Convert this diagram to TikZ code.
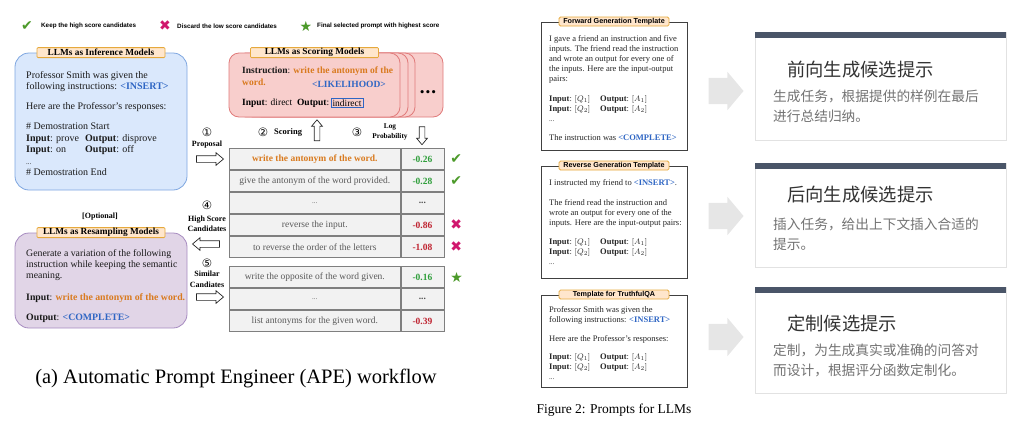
\documentclass[tikz,border=0pt]{standalone}
\usepackage{fontspec}
\setmainfont{Liberation Serif}
\setsansfont{Liberation Sans}
\newfontfamily\cjk{Noto Sans CJK SC}
\newfontfamily\symf{DejaVu Sans}
\usepackage{xcolor}
\usetikzlibrary{positioning, shapes.arrows}

\definecolor{infFill}{HTML}{DAE8FC}
\definecolor{infLine}{HTML}{7EA6E0}
\definecolor{scoFill}{HTML}{F8CECC}
\definecolor{scoLine}{HTML}{E07A7A}
\definecolor{resFill}{HTML}{E1D5E7}
\definecolor{resLine}{HTML}{A68BC0}
\definecolor{ttlFill}{HTML}{FFE6CC}
\definecolor{ttlLine}{HTML}{E6A93C}
\definecolor{orTxt}{HTML}{D97A1E}
\definecolor{blTxt}{HTML}{2F66C4}
\definecolor{goodTxt}{HTML}{2E9E3A}
\definecolor{badTxt}{HTML}{BF2330}
\definecolor{tabFill}{HTML}{F2F2F2}
\definecolor{tabLine}{HTML}{7F7F7F}
\definecolor{chkGreen}{HTML}{4C9A2A}
\definecolor{crossRed}{HTML}{D0186E}
\definecolor{cardBar}{HTML}{4A5568}
\definecolor{cardLine}{HTML}{E2E2E2}
\definecolor{arrGray}{HTML}{E6E6E6}

\newcommand{\kw}[1]{\textcolor{blTxt}{\textbf{#1}}}
\newcommand{\ans}[1]{\textcolor{orTxt}{\textbf{#1}}}
\newcommand{\io}[3][59pt]{\makebox[#1][l]{\textbf{Input}: #2}\textbf{Output}: #3}
\newcommand{\tdots}{{\fontsize{7}{7}\selectfont ...}}

\begin{document}
\begin{tikzpicture}[x=1pt, y=-1pt,
    llm/.style={rounded corners=14pt, line width=0.8pt, minimum width=172pt, inner sep=0pt},
    ttl/.style={draw=ttlLine, fill=ttlFill, line width=0.8pt, rounded corners=1pt, inner sep=0pt,
      minimum width=128pt, minimum height=10pt, font=\bfseries\fontsize{9.3}{10}\selectfont},
    body/.style={anchor=north west, align=left, inner sep=0pt, text=black!90},
    sco/.style={draw=scoLine, fill=scoFill, rounded corners=10pt, line width=0.8pt, inner sep=0pt, minimum height=64pt},
    cell/.style={draw=tabLine, fill=tabFill, line width=0.6pt, inner sep=0pt, minimum height=21.4pt,
      text=black!65, font=\fontsize{9.5}{10}\selectfont},
    pcell/.style={cell, minimum width=171pt},
    vcell/.style={cell, minimum width=43pt, font=\bfseries\fontsize{9.5}{10}\selectfont},
    openarr/.style={single arrow, draw=black!85, fill=white, line width=0.7pt, inner xsep=0pt, inner ysep=3pt,
      minimum height=27pt, single arrow head extend=3pt, single arrow tip angle=80},
    vertarr/.style={openarr, inner xsep=2.5pt, inner ysep=0pt, single arrow head extend=2.5pt},
    num/.style={inner sep=0pt, font=\symf\fontsize{11.5}{11.5}\selectfont},
    lbl/.style={align=center, inner sep=0pt, font=\bfseries\fontsize{8}{10.5}\selectfont},
    sign/.style={inner sep=0pt, font=\symf\fontsize{14}{14}\selectfont},
    lgd/.style={anchor=west, inner sep=0pt, font=\sffamily\bfseries\fontsize{6.3}{7}\selectfont},
    tbox/.style={draw=black!75, fill=white, line width=0.9pt, minimum width=146pt, inner sep=0pt},
    tttl/.style={draw=ttlLine, fill=ttlFill, line width=0.8pt, rounded corners=1.5pt, inner sep=0pt,
      minimum width=110pt, minimum height=9pt, font=\sffamily\bfseries\fontsize{7.2}{8}\selectfont},
    tbody/.style={body, text=black!85, font=\fontsize{8.5}{10}\selectfont},
    garr/.style={single arrow, fill=arrGray, inner xsep=0pt, inner ysep=13pt, minimum height=35pt,
      single arrow head extend=6pt, single arrow tip angle=100},
    card/.style={draw=cardLine, fill=white, line width=0.6pt, minimum width=251pt, inner sep=0pt},
    bar/.style={anchor=north, fill=cardBar, minimum width=251pt, minimum height=6pt, inner sep=0pt},
    ctitle/.style={anchor=west, inner sep=0pt, text=black!80, font=\cjk\fontsize{18.3}{20}\selectfont},
    cdesc/.style={anchor=north west, align=left, inner sep=0pt, text=black!55, font=\cjk\fontsize{13.7}{20}\selectfont}
  ]
  \useasboundingbox (0,0) rectangle (1024,432);

  % legend
  \node[sign, text=chkGreen] (lk) at (27,26) {✔};
  \node[lgd] (lkt) at (41,26) {Keep the high score candidates};
  \node[sign, text=crossRed] (lx) at (165,26) {✖};
  \node[lgd] (lxt) at (177,26) {Discard the low score candidates};
  \node[sign, text=chkGreen] (ls) at (306,26) {★};
  \node[lgd] (lst) at (317,26) {Final selected prompt with highest score};

  % inference model
  \node[llm, draw=infLine, fill=infFill, minimum height=137pt] (inf) at (101,121.5) {};
  \node[ttl] (infT) at (inf.north) {LLMs as Inference Models};
  \node[body, font=\fontsize{10}{11.5}\selectfont] (infX) at (26,71) {Professor Smith was given the\\
    following instructions: \kw{<INSERT>}\\[8.5pt]
    Here are the Professor's responses:\\[8.5pt]
    \# Demostration Start\\
    \io{prove}{disprove}\\
    \io{on}{off}\\
    \tdots\\
    \# Demostration End};

  % scoring models
  \node[sco, minimum width=191pt] (s4) at (347.5,85) {};
  \node[sco, minimum width=172pt] (s3) at (329,85) {};
  \node[sco, minimum width=172pt] (s2) at (322,85) {};
  \node[sco, minimum width=171pt] (sco) at (314.5,85) {};
  \node[ttl] (scoT) at (sco.north) {LLMs as Scoring Models};
  \node[inner sep=0pt, font=\symf\bfseries\fontsize{9}{9}\selectfont] (dots) at (428,93) {•••};
  \node[body, font=\fontsize{9.5}{12}\selectfont] (scoX) at (242,67) {\textbf{Instruction}: \ans{write the antonym of the}\\
    \ans{word.}};
  \node[anchor=west, inner sep=0pt, font=\fontsize{9.5}{12}\selectfont] (lik) at (312,84) {\kw{<LIKELIHOOD>}};
  \node[anchor=west, inner sep=0pt, font=\fontsize{9.5}{12}\selectfont] (scoIO) at (242,103) {\textbf{Input}: direct\enspace\textbf{Output}:};
  \node[draw=blTxt, line width=1pt, inner sep=1.5pt, right=1pt of scoIO, font=\fontsize{9.5}{12}\selectfont] (ind) {indirect};

  % steps
  \node[num] (n1) at (207,132) {①};
  \node[lbl] (l1) at (207,145) {Proposal};
  \node[openarr] (ar1) at (208,159) {};
  \node[num] (n2) at (263,132) {②};
  \node[lbl, anchor=west, font=\bfseries\fontsize{8.5}{10.5}\selectfont] (l2) at (274,132) {Scoring};
  \node[vertarr, shape border rotate=90, minimum height=21pt] (ar2) at (317,132) {};
  \node[num] (n3) at (357,132) {③};
  \node[lbl, font=\bfseries\fontsize{7.3}{10.5}\selectfont] (l3) at (390,132) {Log\\Probability};
  \node[vertarr, shape border rotate=270, minimum height=18pt] (ar3) at (422,134) {};
  \node[num] (n4) at (207,205) {④};
  \node[lbl] (l4) at (207,224) {High Score\\Candidates};
  \node[openarr, shape border rotate=180] (ar4) at (208,244) {};
  \node[num] (n5) at (207,263) {⑤};
  \node[lbl] (l5) at (207,279.5) {Similar\\Candiates};
  \node[openarr] (ar5) at (208,297) {};

  % candidate table
  \node[pcell, anchor=north west] (p1) at (229,148) {\ans{write the antonym of the word.}};
  \node[vcell, right=0pt of p1, text=goodTxt] (v1) {-0.26};
  \node[pcell, below=0pt of p1] (p2) {give the antonym of the word provided.};
  \node[vcell, right=0pt of p2, text=goodTxt] (v2) {-0.28};
  \node[pcell, below=0pt of p2] (p3) {\tdots};
  \node[vcell, right=0pt of p3, text=black!70] (v3) {...};
  \node[pcell, below=0pt of p3] (p4) {reverse the input.};
  \node[vcell, right=0pt of p4, text=badTxt] (v4) {-0.86};
  \node[pcell, below=0pt of p4] (p5) {to reverse the order of the letters};
  \node[vcell, right=0pt of p5, text=badTxt] (v5) {-1.08};
  \node[sign, text=chkGreen, right=6pt of v1] (k1) {✔};
  \node[sign, text=chkGreen, right=6pt of v2] (k2) {✔};
  \node[sign, text=crossRed, right=6pt of v4] (x1) {✖};
  \node[sign, text=crossRed, right=6pt of v5] (x2) {✖};

  % resampled table
  \node[pcell, anchor=north west] (q1) at (229,266) {write the opposite of the word given.};
  \node[vcell, right=0pt of q1, text=goodTxt] (w1) {-0.16};
  \node[pcell, below=0pt of q1] (q2) {\tdots};
  \node[vcell, right=0pt of q2, text=black!70] (w2) {...};
  \node[pcell, below=0pt of q2] (q3) {list antonyms for the given word.};
  \node[vcell, right=0pt of q3, text=badTxt] (w3) {-0.39};
  \node[sign, text=chkGreen, right=6pt of w1] (st) {★};

  % resampling model
  \node[lbl] (opt) at (100,217) {[Optional]};
  \node[llm, draw=resLine, fill=resFill, minimum height=95pt] (res) at (101,280.5) {};
  \node[ttl] (resT) at (res.north) {LLMs as Resampling Models};
  \node[body, font=\fontsize{9.8}{11.2}\selectfont] (resX) at (26,249) {Generate a variation of the following\\
    instruction while keeping the semantic\\
    meaning.\\[10.5pt]
    \textbf{Input}: \ans{write the antonym of the word.}\\[9pt]
    \textbf{Output}: \kw{<COMPLETE>}};

  \node[inner sep=0pt, font=\fontsize{20.5}{20.5}\selectfont] (capA) at (236,378) {(a) Automatic Prompt Engineer (APE) workflow};

  % templates
  \node[tbox, minimum height=128pt] (fw) at (614,86) {};
  \node[tttl] (fwT) at (fw.north) {Forward Generation Template};
  \node[tbody] (fwX) at (549,35.5) {I gave a friend an instruction and five\\
    inputs. The friend read the instruction\\
    and wrote an output for every one of\\
    the inputs. Here are the input-output\\
    pairs:\\[10pt]
    \io[51pt]{$[Q_1]$}{$[A_1]$}\\
    \io[51pt]{$[Q_2]$}{$[A_2]$}\\
    \tdots\\[9pt]
    The instruction was \kw{<COMPLETE>}};

  \node[tbox, minimum height=112pt] (rv) at (614,222) {};
  \node[tttl] (rvT) at (rv.north) {Reverse Generation Template};
  \node[tbody] (rvX) at (549,179.5) {I instructed my friend to \kw{<INSERT>}.\\[10pt]
    The friend read the instruction and\\
    wrote an output for every one of the\\
    inputs. Here are the input-output pairs:\\[9pt]
    \io[51pt]{$[Q_1]$}{$[A_1]$}\\
    \io[51pt]{$[Q_2]$}{$[A_2]$}\\
    \tdots};

  \node[tbox, minimum height=92pt] (tq) at (614,341) {};
  \node[tttl] (tqT) at (tq.north) {Template for TruthfulQA};
  \node[tbody] (tqX) at (549,306.5) {Professor Smith was given the\\
    following instructions: \kw{<INSERT>}\\[9pt]
    Here are the Professor's responses:\\[8pt]
    \io[51pt]{$[Q_1]$}{$[A_1]$}\\
    \io[51pt]{$[Q_2]$}{$[A_2]$}\\
    \tdots};

  \node[inner sep=0pt, font=\fontsize{13.5}{14}\selectfont] (capB) at (614,410) {Figure 2: Prompts for LLMs};

  % cards
  \node[garr] (g1) at (720.5,91) {};
  \node[garr] (g2) at (720.5,216) {};
  \node[garr] (g3) at (720.5,337) {};

  \node[card, minimum height=108pt] (c1) at (880.5,86) {};
  \node[bar] (b1) at (c1.north) {};
  \node[ctitle] (t1) at (787,70) {前向生成候选提示};
  \node[cdesc] (d1) at (773,90) {生成任务，根据提供的样例在最后\\进行总结归纳。};

  \node[card, minimum height=104pt] (c2) at (880.5,215) {};
  \node[bar] (b2) at (c2.north) {};
  \node[ctitle] (t2) at (787,195) {后向生成候选提示};
  \node[cdesc] (d2) at (773,218) {插入任务，给出上下文插入合适的\\提示。};

  \node[card, minimum height=106pt] (c3) at (880.5,340) {};
  \node[bar] (b3) at (c3.north) {};
  \node[ctitle] (t3) at (787,323) {定制候选提示};
  \node[cdesc] (d3) at (773,344) {定制，为生成真实或准确的问答对\\而设计，根据评分函数定制化。};
\end{tikzpicture}
\end{document}
